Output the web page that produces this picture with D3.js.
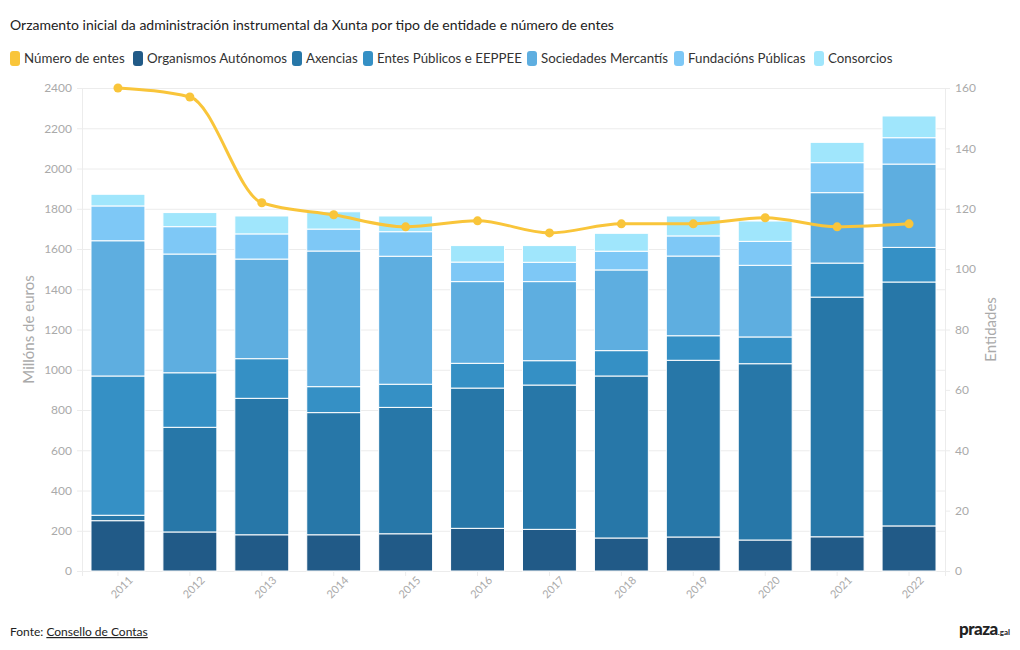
<!DOCTYPE html>
<html><head><meta charset="utf-8">
<script src="https://cdn.jsdelivr.net/npm/d3@7"></script>
<style>
body{margin:0;background:#fff;}
text{font-family:"Lato","Noto Sans",sans-serif;}
</style></head>
<body><svg id="c" width="1020" height="650"></svg>
<script>
const years = ["2011","2012","2013","2014","2015","2016","2017","2018","2019","2020","2021","2022"];
const seriesNames = ["Organismos Autónomos","Axencias","Entes Públicos e EEPPEE","Sociedades Mercantís","Fundacións Públicas","Consorcios"];
const organismos = [250,194,180,180,185,212,207,164,169,154,170,224];
const axencias   = [27,520,678,607,628,697,717,805,878,876,1191,1212];
const entes      = [692,271,197,129,115,123,121,126,122,133,169,172];
const sociedades = [672,590,495,674,636,406,393,401,396,356,350,414];
const fundacions = [173,136,125,109,122,97,96,93,100,119,149,131];
const consorcios = [58,70,89,86,78,82,83,89,99,101,101,108];
const numeroEntes = [160,157,122,118,114,116,112,115,115,117,114,115];
const leftTicks = [0,200,400,600,800,1000,1200,1400,1600,1800,2000,2200,2400];
const rightTicks = [0,20,40,60,80,100,120,140,160];
const colors = ["#215a87","#2777a8","#3590c5","#5eaee0","#7ec8f6","#a0e6fc"];
const lineColor = "#f9c53a";

const svg = d3.select("#c");
const L=82,R=945,T=88,B=571;
const x = d3.scaleBand().domain(years).range([L,R]).paddingInner(0.25).paddingOuter(0.125);
const y = d3.scaleLinear().domain([0,2400]).range([B,T]);
const y2 = d3.scaleLinear().domain([0,160]).range([B,T]);

// title
svg.append("text").attr("x",10).attr("y",30).attr("font-size",14).attr("fill","#222")
  .text("Orzamento inicial da administración instrumental da Xunta por tipo de entidade e número de entes");

// legend
const legendX = [10,133,292,363,527,674,814];
const legendItems = [{name:"Número de entes",color:lineColor}].concat(seriesNames.map((n,i)=>({name:n,color:colors[i]})));
legendItems.forEach((it,i)=>{
  const lx = legendX[i];
  const g=svg.append("g");
  g.append("rect").attr("x",lx).attr("y",51).attr("width",10).attr("height",15).attr("rx",3).attr("fill",it.color);
  g.append("text").attr("x",lx+14).attr("y",63).attr("font-size",13.3).attr("fill","#333").text(it.name);
});

// grid
svg.append("g").selectAll("line").data(leftTicks).join("line")
  .attr("x1",L).attr("x2",R).attr("y1",d=>y(d)+0.5).attr("y2",d=>y(d)+0.5)
  .attr("stroke","#ececec");

// left axis
const ga = svg.append("g").attr("transform",`translate(${L},0)`)
  .call(d3.axisLeft(y).tickValues(leftTicks).tickFormat(d3.format("d")).tickSize(5).tickPadding(5));
ga.select(".domain").attr("stroke","#ececec");
ga.selectAll(".tick line").attr("stroke","#ececec");
ga.selectAll(".tick text").attr("fill","#aaa").attr("font-size",12).attr("font-family","Lato,'Noto Sans',sans-serif");

// right axis
const gr = svg.append("g").attr("transform",`translate(${R},0)`)
  .call(d3.axisRight(y2).tickValues(rightTicks).tickFormat(d3.format("d")).tickSize(5).tickPadding(5));
gr.select(".domain").attr("stroke","#ececec");
gr.selectAll(".tick line").attr("stroke","#ececec");
gr.selectAll(".tick text").attr("fill","#aaa").attr("font-size",12).attr("font-family","Lato,'Noto Sans',sans-serif");

// bottom axis
const gb = svg.append("g").attr("transform",`translate(0,${B})`)
  .call(d3.axisBottom(x).tickSize(5).tickPadding(4));
gb.select(".domain").attr("stroke","#ececec");
gb.selectAll(".tick line").attr("stroke","#ececec");
gb.selectAll(".tick text").attr("fill","#aaa").attr("font-size",11).attr("font-family","Lato,'Noto Sans',sans-serif")
  .attr("text-anchor","end").attr("dx","4").attr("dy","9").attr("transform","rotate(-45)");

// axis titles
svg.append("text").attr("transform",`translate(34,${(T+B)/2}) rotate(-90)`).attr("text-anchor","middle")
  .attr("font-size",15).attr("fill","#aaa").text("Millóns de euros");
svg.append("text").attr("transform",`translate(996,${(T+B)/2}) rotate(-90)`).attr("text-anchor","middle")
  .attr("font-size",15).attr("fill","#aaa").text("Entidades");

// stacked bars
const rows = years.map((yr,i)=>({year:yr, s0:organismos[i], s1:axencias[i], s2:entes[i], s3:sociedades[i], s4:fundacions[i], s5:consorcios[i]}));
const stack = d3.stack().keys(["s0","s1","s2","s3","s4","s5"])(rows);
svg.append("g").selectAll("g").data(stack).join("g").attr("fill",(d,i)=>colors[i])
  .selectAll("rect").data(d=>d).join("rect")
  .attr("x",d=>x(d.data.year)).attr("width",x.bandwidth())
  .attr("y",d=>y(d[1])).attr("height",d=>y(d[0])-y(d[1]))
  .attr("stroke","#fff").attr("stroke-width",1);

// line
const line = d3.line().x((d,i)=>x(years[i])+x.bandwidth()/2).y(d=>y2(d)).curve(d3.curveMonotoneX);
svg.append("path").datum(numeroEntes).attr("d",line).attr("fill","none").attr("stroke",lineColor).attr("stroke-width",3);
svg.append("g").selectAll("circle").data(numeroEntes).join("circle")
  .attr("cx",(d,i)=>x(years[i])+x.bandwidth()/2).attr("cy",d=>y2(d)).attr("r",4.5).attr("fill",lineColor);

// footer
const f = svg.append("text").attr("x",10).attr("y",636).attr("font-size",12).attr("fill","#222");
f.append("tspan").text("Fonte: ");
f.append("tspan").attr("text-decoration","underline").text("Consello de Contas");
const lg = svg.append("text").attr("x",1010).attr("y",635).attr("text-anchor","end").attr("fill","#222");
lg.append("tspan").attr("font-size",17).attr("font-weight",900).attr("letter-spacing","-0.5").text("praza");
lg.append("tspan").attr("font-size",8).attr("font-weight",700).text(".gal");
</script></body></html>
